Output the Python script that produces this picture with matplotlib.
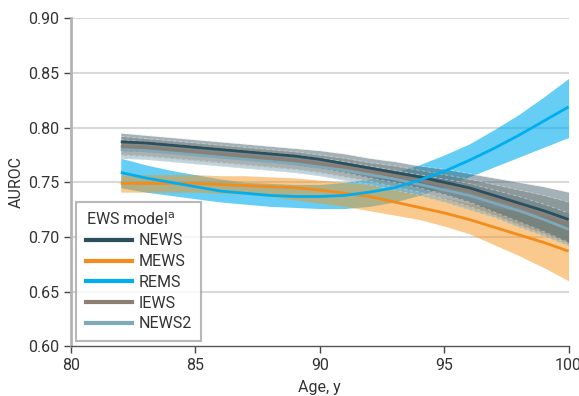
import matplotlib
matplotlib.use("Agg")
import matplotlib.pyplot as plt
import numpy as np

# --- data -------------------------------------------------------------
age = list(range(82, 101))

news = [0.787, 0.786, 0.784, 0.782, 0.780, 0.778, 0.776, 0.774, 0.771, 0.767,
        0.763, 0.759, 0.755, 0.750, 0.745, 0.738, 0.731, 0.724, 0.716]
news_hi = [0.795, 0.793, 0.791, 0.789, 0.787, 0.785, 0.783, 0.781, 0.779, 0.776,
           0.772, 0.769, 0.765, 0.762, 0.758, 0.754, 0.750, 0.746, 0.741]
news_lo = [0.779, 0.778, 0.777, 0.775, 0.773, 0.771, 0.769, 0.766, 0.763, 0.759,
           0.754, 0.750, 0.745, 0.739, 0.732, 0.723, 0.714, 0.705, 0.695]

mews = [0.749, 0.749, 0.749, 0.749, 0.748, 0.747, 0.746, 0.745, 0.743, 0.740,
        0.737, 0.732, 0.727, 0.722, 0.716, 0.709, 0.702, 0.695, 0.687]
mews_hi = [0.757, 0.757, 0.757, 0.757, 0.756, 0.756, 0.755, 0.754, 0.752, 0.750,
           0.748, 0.744, 0.740, 0.736, 0.731, 0.727, 0.723, 0.719, 0.714]
mews_lo = [0.741, 0.741, 0.741, 0.741, 0.740, 0.739, 0.737, 0.734, 0.731, 0.728,
           0.724, 0.720, 0.716, 0.710, 0.703, 0.693, 0.683, 0.672, 0.660]

rems = [0.759, 0.754, 0.750, 0.746, 0.742, 0.740, 0.738, 0.737, 0.737, 0.738,
        0.741, 0.745, 0.752, 0.760, 0.770, 0.781, 0.793, 0.806, 0.819]
rems_hi = [0.772, 0.766, 0.761, 0.757, 0.753, 0.750, 0.749, 0.748, 0.748, 0.750,
           0.753, 0.759, 0.766, 0.775, 0.785, 0.798, 0.812, 0.828, 0.845]
rems_lo = [0.745, 0.741, 0.738, 0.735, 0.732, 0.730, 0.728, 0.727, 0.726, 0.726,
           0.728, 0.732, 0.738, 0.746, 0.755, 0.764, 0.773, 0.782, 0.791]

iews = [0.783, 0.782, 0.780, 0.778, 0.776, 0.774, 0.772, 0.770, 0.767, 0.764,
        0.760, 0.756, 0.752, 0.747, 0.742, 0.735, 0.728, 0.720, 0.712]
iews_hi = [0.792, 0.790, 0.788, 0.786, 0.784, 0.782, 0.780, 0.778, 0.775, 0.772,
           0.768, 0.765, 0.761, 0.757, 0.753, 0.748, 0.743, 0.738, 0.732]
iews_lo = [0.775, 0.774, 0.772, 0.770, 0.768, 0.766, 0.764, 0.762, 0.759, 0.755,
           0.751, 0.746, 0.741, 0.735, 0.728, 0.720, 0.711, 0.703, 0.694]

news2 = [0.780, 0.779, 0.777, 0.775, 0.773, 0.771, 0.769, 0.767, 0.764, 0.761,
         0.757, 0.753, 0.748, 0.743, 0.738, 0.731, 0.724, 0.716, 0.707]
news2_hi = [0.789, 0.787, 0.785, 0.783, 0.781, 0.779, 0.777, 0.775, 0.772, 0.769,
            0.765, 0.761, 0.757, 0.753, 0.749, 0.743, 0.737, 0.730, 0.722]
news2_lo = [0.772, 0.771, 0.769, 0.767, 0.765, 0.763, 0.761, 0.759, 0.756, 0.752,
            0.748, 0.743, 0.738, 0.732, 0.725, 0.718, 0.709, 0.701, 0.692]

labels = ["NEWS", "MEWS", "REMS", "IEWS", "NEWS2"]
colors = ["#2b4f5c", "#f28c1c", "#00aeef", "#8c7f72", "#7fa8b8"]

x_ticks = [80, 85, 90, 95, 100]
y_ticks = [0.60, 0.65, 0.70, 0.75, 0.80, 0.85, 0.90]

# --- style ------------------------------------------------------------
plt.rcParams["font.family"] = ["Roboto", "DejaVu Sans"]
text_color = "#333333"

fig = plt.figure(figsize=(5.79, 3.96), dpi=100)
ax = fig.add_axes([0.1226, 0.1255, 0.8594, 0.8283])

x = np.array(age)

# confidence bands
band_specs = [
    (rems_lo, rems_hi, "#00aeef", 0.60, None),
    (mews_lo, mews_hi, "#f7941d", 0.50, None),
    (news2_lo, news2_hi, "#7fa8b8", 0.50, "#dfe7ea"),
    (iews_lo, iews_hi, "#8c7f72", 0.40, "#dfe3e4"),
    (news_lo, news_hi, "#4a6670", 0.50, "#dfe7ea"),
]
for lo, hi, c, a, edge in band_specs:
    ax.fill_between(x, lo, hi, color=c, alpha=a, linewidth=0, zorder=2)
    if edge is not None:
        ax.plot(x, lo, color=edge, lw=0.6, ls=(0, (4, 3)), alpha=0.55, zorder=3)
        ax.plot(x, hi, color=edge, lw=0.6, ls=(0, (4, 3)), alpha=0.55, zorder=3)

# estimate lines
series = [news, mews, rems, iews, news2]
for i in [4, 3, 0, 1, 2]:
    ax.plot(x, series[i], color=colors[i], lw=2.0, zorder=4,
            solid_capstyle="butt", solid_joinstyle="round")

# axes styling
ax.set_xlim(80, 100)
ax.set_ylim(0.60, 0.90)
ax.set_xticks(x_ticks)
ax.set_yticks(y_ticks)
ax.set_yticklabels([f"{v:.2f}" for v in y_ticks])
for v in y_ticks[1:]:
    ax.axhline(v, color="#d9d9d9", lw=1.5, zorder=1)

for s in ["top", "right"]:
    ax.spines[s].set_visible(False)
ax.spines["left"].set_color("#b3b3b3")
ax.spines["left"].set_linewidth(2.0)
ax.spines["bottom"].set_color("#555555")
ax.spines["bottom"].set_linewidth(1.0)
ax.tick_params(axis="both", colors="#444444", labelcolor=text_color,
               labelsize=11.5, length=5, width=1)

ax.set_xlabel("Age, y", fontsize=11.5, color=text_color, labelpad=5)
ax.set_ylabel("AUROC", fontsize=11.5, color=text_color, labelpad=3)

leg_handles = [plt.Line2D([], [], color=c, lw=3) for c in colors]
leg = ax.legend(leg_handles, labels, title="EWS model$^{\\mathrm{a}}$",
                loc="lower left", bbox_to_anchor=(0.01, 0.016),
                borderaxespad=0.0,
                fontsize=11.5, title_fontsize=11.5, frameon=True, fancybox=False,
                handlelength=2.9, handletextpad=0.4, labelspacing=0.36,
                borderpad=0.6, alignment="left")
leg.get_frame().set_edgecolor("#a6a6a6")
leg.get_frame().set_linewidth(1.5)
for t in leg.get_texts():
    t.set_color(text_color)
leg.get_title().set_color(text_color)
leg.set_zorder(10)

fig.savefig("out.png", dpi=100)
